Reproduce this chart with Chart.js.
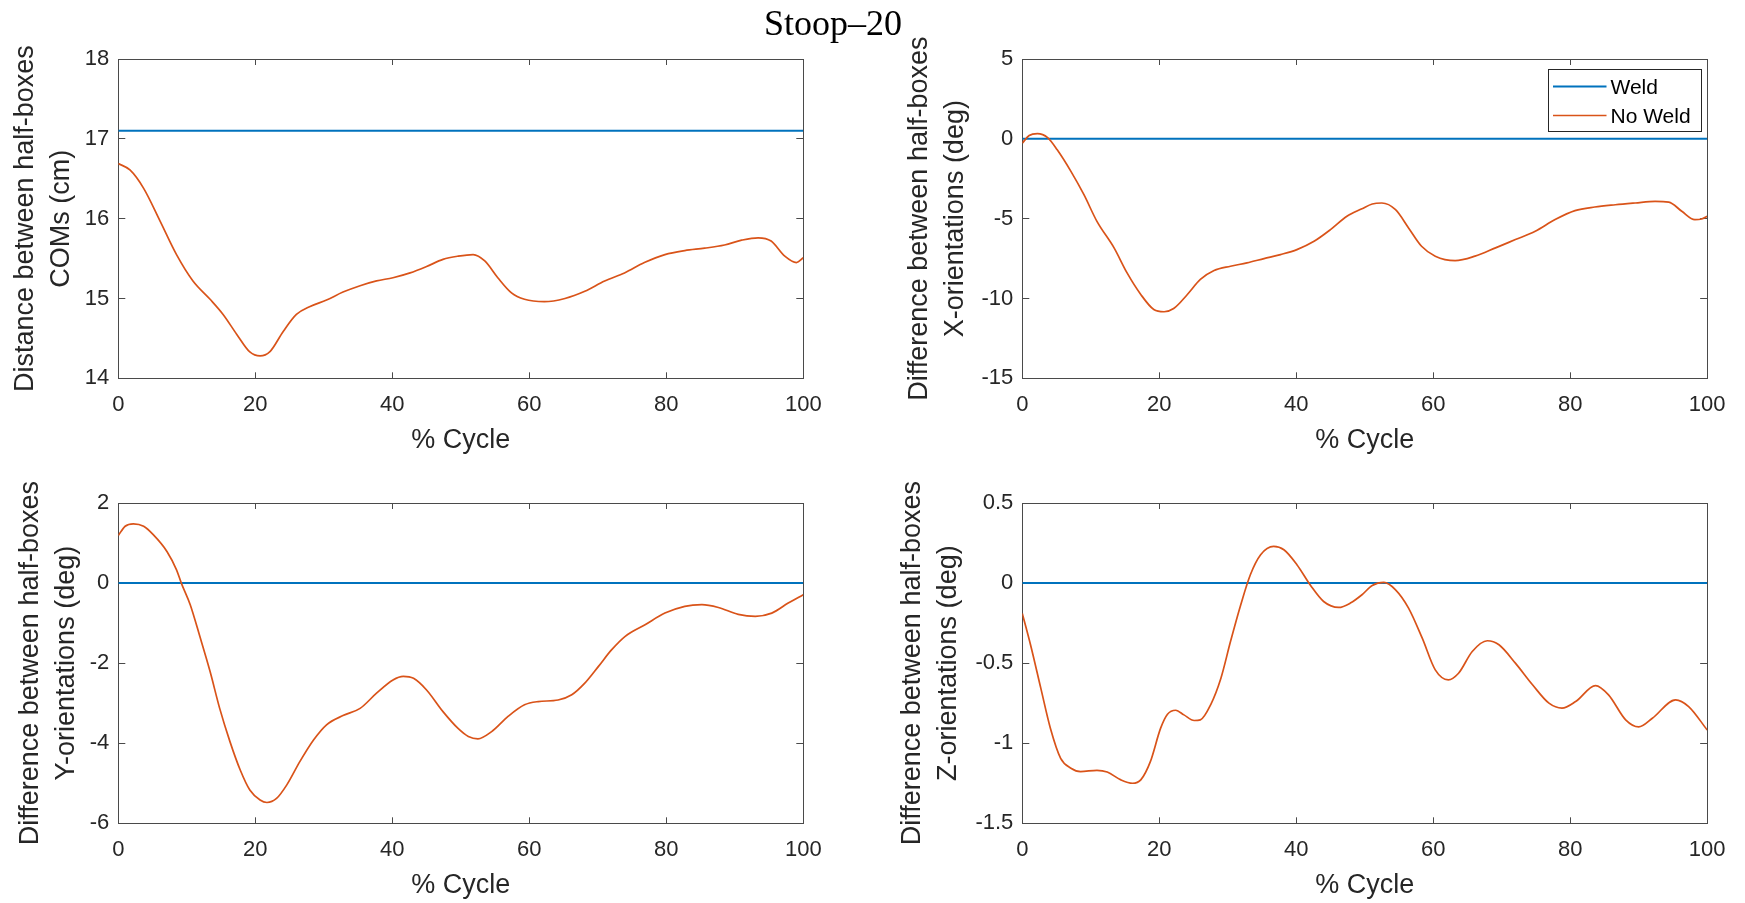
<!DOCTYPE html>
<html>
<head>
<meta charset="utf-8">
<script src="https://cdn.jsdelivr.net/npm/chart.js@4.4.1/dist/chart.umd.min.js"></script>
<style>
html,body{margin:0;padding:0;background:#fff;width:1745px;height:903px;overflow:hidden}
canvas{position:absolute;left:0;top:0}
</style>
</head>
<body>
<canvas id="c1" width="1745" height="903"></canvas>
<canvas id="c2" width="1745" height="903"></canvas>
<canvas id="c3" width="1745" height="903"></canvas>
<canvas id="c4" width="1745" height="903"></canvas>
<script>
// ---------- DATA ----------
const figureTitle = 'Stoop\u201320';
const seriesNames = ['Weld', 'No Weld'];
const xTitle = '% Cycle';
const xTicks = [0, 20, 40, 60, 80, 100];
const cycleEnds = [0, 100];

// Panel 1: distance between COMs (cm)
const comTitle = ['Distance between half-boxes', 'COMs (cm)'];
const comTicks = [14, 15, 16, 17, 18];
const comWeld = [17.1, 17.1];
const comCycle = [0,1.7,3.7,6.1,8.5,10.9,13.4,15.3,17.3,19.2,20.7,22.1,24.1,26.0,28.0,30.4,32.8,35.3,37.7,40.1,42.6,45.0,47.4,49.6,51.8,53.5,55.4,57.4,59.3,62.2,65.2,68.1,71.0,73.9,76.8,79.8,82.7,85.6,88.5,91.0,93.4,95.3,97.3,99.0,100];
const comNoWeld = [16.69,16.61,16.38,15.97,15.55,15.22,14.99,14.8,14.55,14.33,14.28,14.33,14.59,14.8,14.9,14.98,15.08,15.16,15.22,15.26,15.32,15.40,15.49,15.53,15.55,15.47,15.26,15.07,14.99,14.96,15.0,15.09,15.22,15.32,15.45,15.55,15.6,15.63,15.67,15.73,15.76,15.72,15.53,15.45,15.51];

// Panel 2: X-orientation difference (deg)
const xoTitle = ['Difference between half-boxes', 'X-orientations (deg)'];
const xoTicks = [-15, -10, -5, 0, 5];
const xoWeld = [0, 0];
const xoCycle = [0,1.0,2.2,3.7,5.1,7.1,9.0,10.9,13.4,15.3,17.3,19.2,20.7,22.1,24.1,26.0,28.0,30.4,32.8,35.3,37.7,40.1,42.6,45.0,47.4,49.6,51.1,52.5,54.5,56.4,58.3,60.3,63.2,66.1,69.1,72.0,74.9,77.8,80.7,83.6,86.6,89.5,92.4,94.4,96.3,98.2,99.2,100];
const xoNoWeld = [-0.27,0.21,0.33,0.08,-0.69,-2.04,-3.5,-5.17,-6.83,-8.4,-9.75,-10.69,-10.83,-10.63,-9.75,-8.81,-8.25,-7.98,-7.77,-7.5,-7.25,-6.94,-6.42,-5.69,-4.85,-4.38,-4.08,-4.02,-4.44,-5.58,-6.73,-7.35,-7.63,-7.35,-6.83,-6.31,-5.79,-5.06,-4.5,-4.27,-4.13,-4.02,-3.92,-3.96,-4.54,-5.06,-5.02,-4.85];

// Panel 3: Y-orientation difference (deg)
const yoTitle = ['Difference between half-boxes', 'Y-orientations (deg)'];
const yoTicks = [-6, -4, -2, 0, 2];
const yoWeld = [0, 0];
const yoCycle = [0,1.0,2.2,3.7,5.1,7.1,8.5,9.2,10.5,11.9,13.4,14.8,16.3,17.8,19.2,20.7,21.7,23.1,24.6,26.5,28.5,30.4,32.8,35.3,37.7,40.1,41.6,43.1,45.0,47.4,49.6,51.1,52.5,54.5,56.9,59.3,61.3,64.2,66.2,68.1,70.1,72.0,74.0,76.9,79.8,82.7,85.2,87.6,90.5,93.0,95.4,97.8,100];
const yoNoWeld = [1.19,1.42,1.48,1.42,1.21,0.79,0.33,0,-0.54,-1.33,-2.21,-3.13,-3.96,-4.67,-5.17,-5.42,-5.48,-5.38,-5.04,-4.46,-3.92,-3.54,-3.31,-3.13,-2.75,-2.42,-2.33,-2.38,-2.67,-3.21,-3.63,-3.83,-3.89,-3.71,-3.33,-3.04,-2.96,-2.92,-2.79,-2.5,-2.08,-1.67,-1.33,-1.04,-0.75,-0.58,-0.54,-0.61,-0.78,-0.83,-0.75,-0.5,-0.29];

// Panel 4: Z-orientation difference (deg)
const zoTitle = ['Difference between half-boxes', 'Z-orientations (deg)'];
const zoTicks = [-1.5, -1, -0.5, 0, 0.5];
const zoWeld = [0, 0];
const zoCycle = [0,1.2,2.7,4.1,5.6,7.1,8.5,10.9,12.4,14.4,16.1,17.3,18.7,20.2,21.2,22.4,23.6,25.1,26.0,27.5,29.0,30.4,31.9,33.3,34.8,36.7,38.2,40.1,42.1,44.0,46.2,47.9,49.6,51.1,52.8,54.5,56.4,58.4,60.3,62.2,63.7,65.7,67.9,69.6,72.0,74.5,76.9,78.8,80.8,83.7,85.6,88.1,90.0,92.0,95.4,97.3,100];
const zoNoWeld = [-0.19,-0.385,-0.656,-0.906,-1.094,-1.156,-1.177,-1.169,-1.18,-1.229,-1.25,-1.229,-1.115,-0.906,-0.819,-0.794,-0.823,-0.858,-0.854,-0.76,-0.594,-0.365,-0.135,0.052,0.177,0.229,0.208,0.115,-0.015,-0.115,-0.152,-0.125,-0.073,-0.015,0.004,-0.042,-0.156,-0.344,-0.542,-0.604,-0.563,-0.427,-0.36,-0.385,-0.5,-0.635,-0.75,-0.781,-0.74,-0.64,-0.698,-0.854,-0.898,-0.844,-0.729,-0.771,-0.917];

// ---------- STYLE / LAYOUT ----------
const W = 1745, H = 903;
const INK = '#262626', EDGE = '#4a4a4a';
const BLUE = '#0072BD', ORANGE = '#D95319';
const SANS = '"Liberation Sans", Arial, Helvetica, sans-serif';
const X_AXIS_H = 78;

Chart.defaults.font.family = SANS;

const fmtTick = v => String(Math.round(v * 1000) / 1000);

const titlePlugin = {
  id: 'figTitle',
  afterDraw(chart, args, opts) {
    if (!opts.text) return;
    const ctx = chart.ctx;
    ctx.save();
    ctx.font = '36px "Liberation Serif", "Times New Roman", serif';
    ctx.fillStyle = '#000';
    ctx.textAlign = 'center';
    ctx.textBaseline = 'alphabetic';
    ctx.fillText(opts.text, opts.x, opts.y);
    ctx.restore();
  }
};

const boxLegend = {
  id: 'boxLegend',
  afterDraw(chart, args, opts) {
    if (!opts.show) return;
    const ctx = chart.ctx, a = chart.chartArea;
    const bw = 153, bh = 62;
    const bx = Math.round(a.right - 6.5 - bw) + 0.5, by = Math.round(a.top + 10) + 0.5;
    ctx.save();
    ctx.fillStyle = '#fff';
    ctx.fillRect(bx, by, bw, bh);
    ctx.strokeStyle = INK;
    ctx.lineWidth = 1;
    ctx.strokeRect(bx, by, bw, bh);
    ctx.font = '21px ' + SANS;
    ctx.textAlign = 'left';
    ctx.textBaseline = 'middle';
    chart.data.datasets.forEach((ds, i) => {
      const ly = by + 17 + i * 29;
      ctx.strokeStyle = ds.borderColor;
      ctx.lineWidth = ds.borderWidth;
      ctx.beginPath();
      ctx.moveTo(bx + 4.5, ly);
      ctx.lineTo(bx + 58, ly);
      ctx.stroke();
      ctx.fillStyle = '#000';
      ctx.fillText(ds.label, bx + 62, ly + 1.5);
    });
    ctx.restore();
  }
};

function panel(id, frame, cycle, noWeld, weld, yTicks, yTitle, extra) {
  const ymin = yTicks[0], ymax = yTicks[yTicks.length - 1];
  const ystep = yTicks[1] - yTicks[0];
  const xstep = xTicks[1] - xTicks[0];
  const tickFont = {family: SANS, size: 22};
  const titleFont = {family: SANS, size: 27};
  return new Chart(document.getElementById(id), {
    type: 'line',
    data: {
      datasets: [
        {label: seriesNames[0], data: cycleEnds.map((x, i) => ({x, y: weld[i]})),
         borderColor: BLUE, borderWidth: 2, pointRadius: 0, order: 1},
        {label: seriesNames[1], data: cycle.map((x, i) => ({x, y: noWeld[i]})),
         borderColor: ORANGE, borderWidth: 1.7, pointRadius: 0, cubicInterpolationMode: 'monotone', order: 0}
      ]
    },
    options: {
      responsive: false, animation: false, devicePixelRatio: 1,
      layout: {padding: {left: frame.padL, top: frame.top, right: W - frame.right, bottom: H - frame.bottom - X_AXIS_H}},
      plugins: {
        legend: {display: false}, tooltip: {enabled: false}, title: {display: false},
        boxLegend: {show: !!extra.legend},
        figTitle: extra.title || {}
      },
      scales: {
        x: {
          type: 'linear', position: 'bottom', min: xTicks[0], max: xTicks[xTicks.length - 1],
          ticks: {stepSize: xstep, font: tickFont, color: INK, padding: 19.5, maxRotation: 0, autoSkip: false, callback: fmtTick},
          grid: {drawOnChartArea: false, tickLength: -6, color: EDGE, tickWidth: 1},
          border: {display: true, color: EDGE, width: 1},
          title: {display: true, text: xTitle, font: titleFont, color: INK, padding: 0},
          afterFit: s => { s.height = X_AXIS_H; }
        },
        xTop: {
          type: 'linear', position: 'top', min: xTicks[0], max: xTicks[xTicks.length - 1],
          ticks: {stepSize: xstep, display: false},
          grid: {drawOnChartArea: false, tickLength: -6, color: EDGE, tickWidth: 1},
          border: {display: true, color: EDGE, width: 1},
          afterFit: s => { s.height = 0; }
        },
        y: {
          type: 'linear', position: 'left', min: ymin, max: ymax,
          ticks: {stepSize: ystep, font: tickFont, color: INK, padding: 16, autoSkip: false, callback: fmtTick},
          grid: {drawOnChartArea: false, tickLength: -7, color: EDGE, tickWidth: 1},
          border: {display: true, color: EDGE, width: 1},
          title: {display: true, text: yTitle, font: {family: SANS, size: 27, lineHeight: 1.33}, color: INK, padding: 0},
          afterFit: s => { s.width = frame.left - frame.padL; }
        },
        yRight: {
          type: 'linear', position: 'right', min: ymin, max: ymax,
          ticks: {stepSize: ystep, display: false},
          grid: {drawOnChartArea: false, tickLength: -7, color: EDGE, tickWidth: 1},
          border: {display: true, color: EDGE, width: 1},
          afterFit: s => { s.width = 0; }
        }
      }
    },
    plugins: [boxLegend, titlePlugin]
  });
}

panel('c1', {padL: 8, left: 118.3, right: 803.3, top: 59, bottom: 378.3},
      comCycle, comNoWeld, comWeld, comTicks, comTitle, {title: {text: figureTitle, x: 833, y: 35}});
panel('c2', {padL: 902, left: 1022.3, right: 1707.5, top: 59, bottom: 378.3},
      xoCycle, xoNoWeld, xoWeld, xoTicks, xoTitle, {legend: true});
panel('c3', {padL: 13, left: 118.3, right: 803.3, top: 503, bottom: 823.3},
      yoCycle, yoNoWeld, yoWeld, yoTicks, yoTitle, {});
panel('c4', {padL: 895, left: 1022.3, right: 1707.5, top: 503, bottom: 823.3},
      zoCycle, zoNoWeld, zoWeld, zoTicks, zoTitle, {});
</script>
</body>
</html>
